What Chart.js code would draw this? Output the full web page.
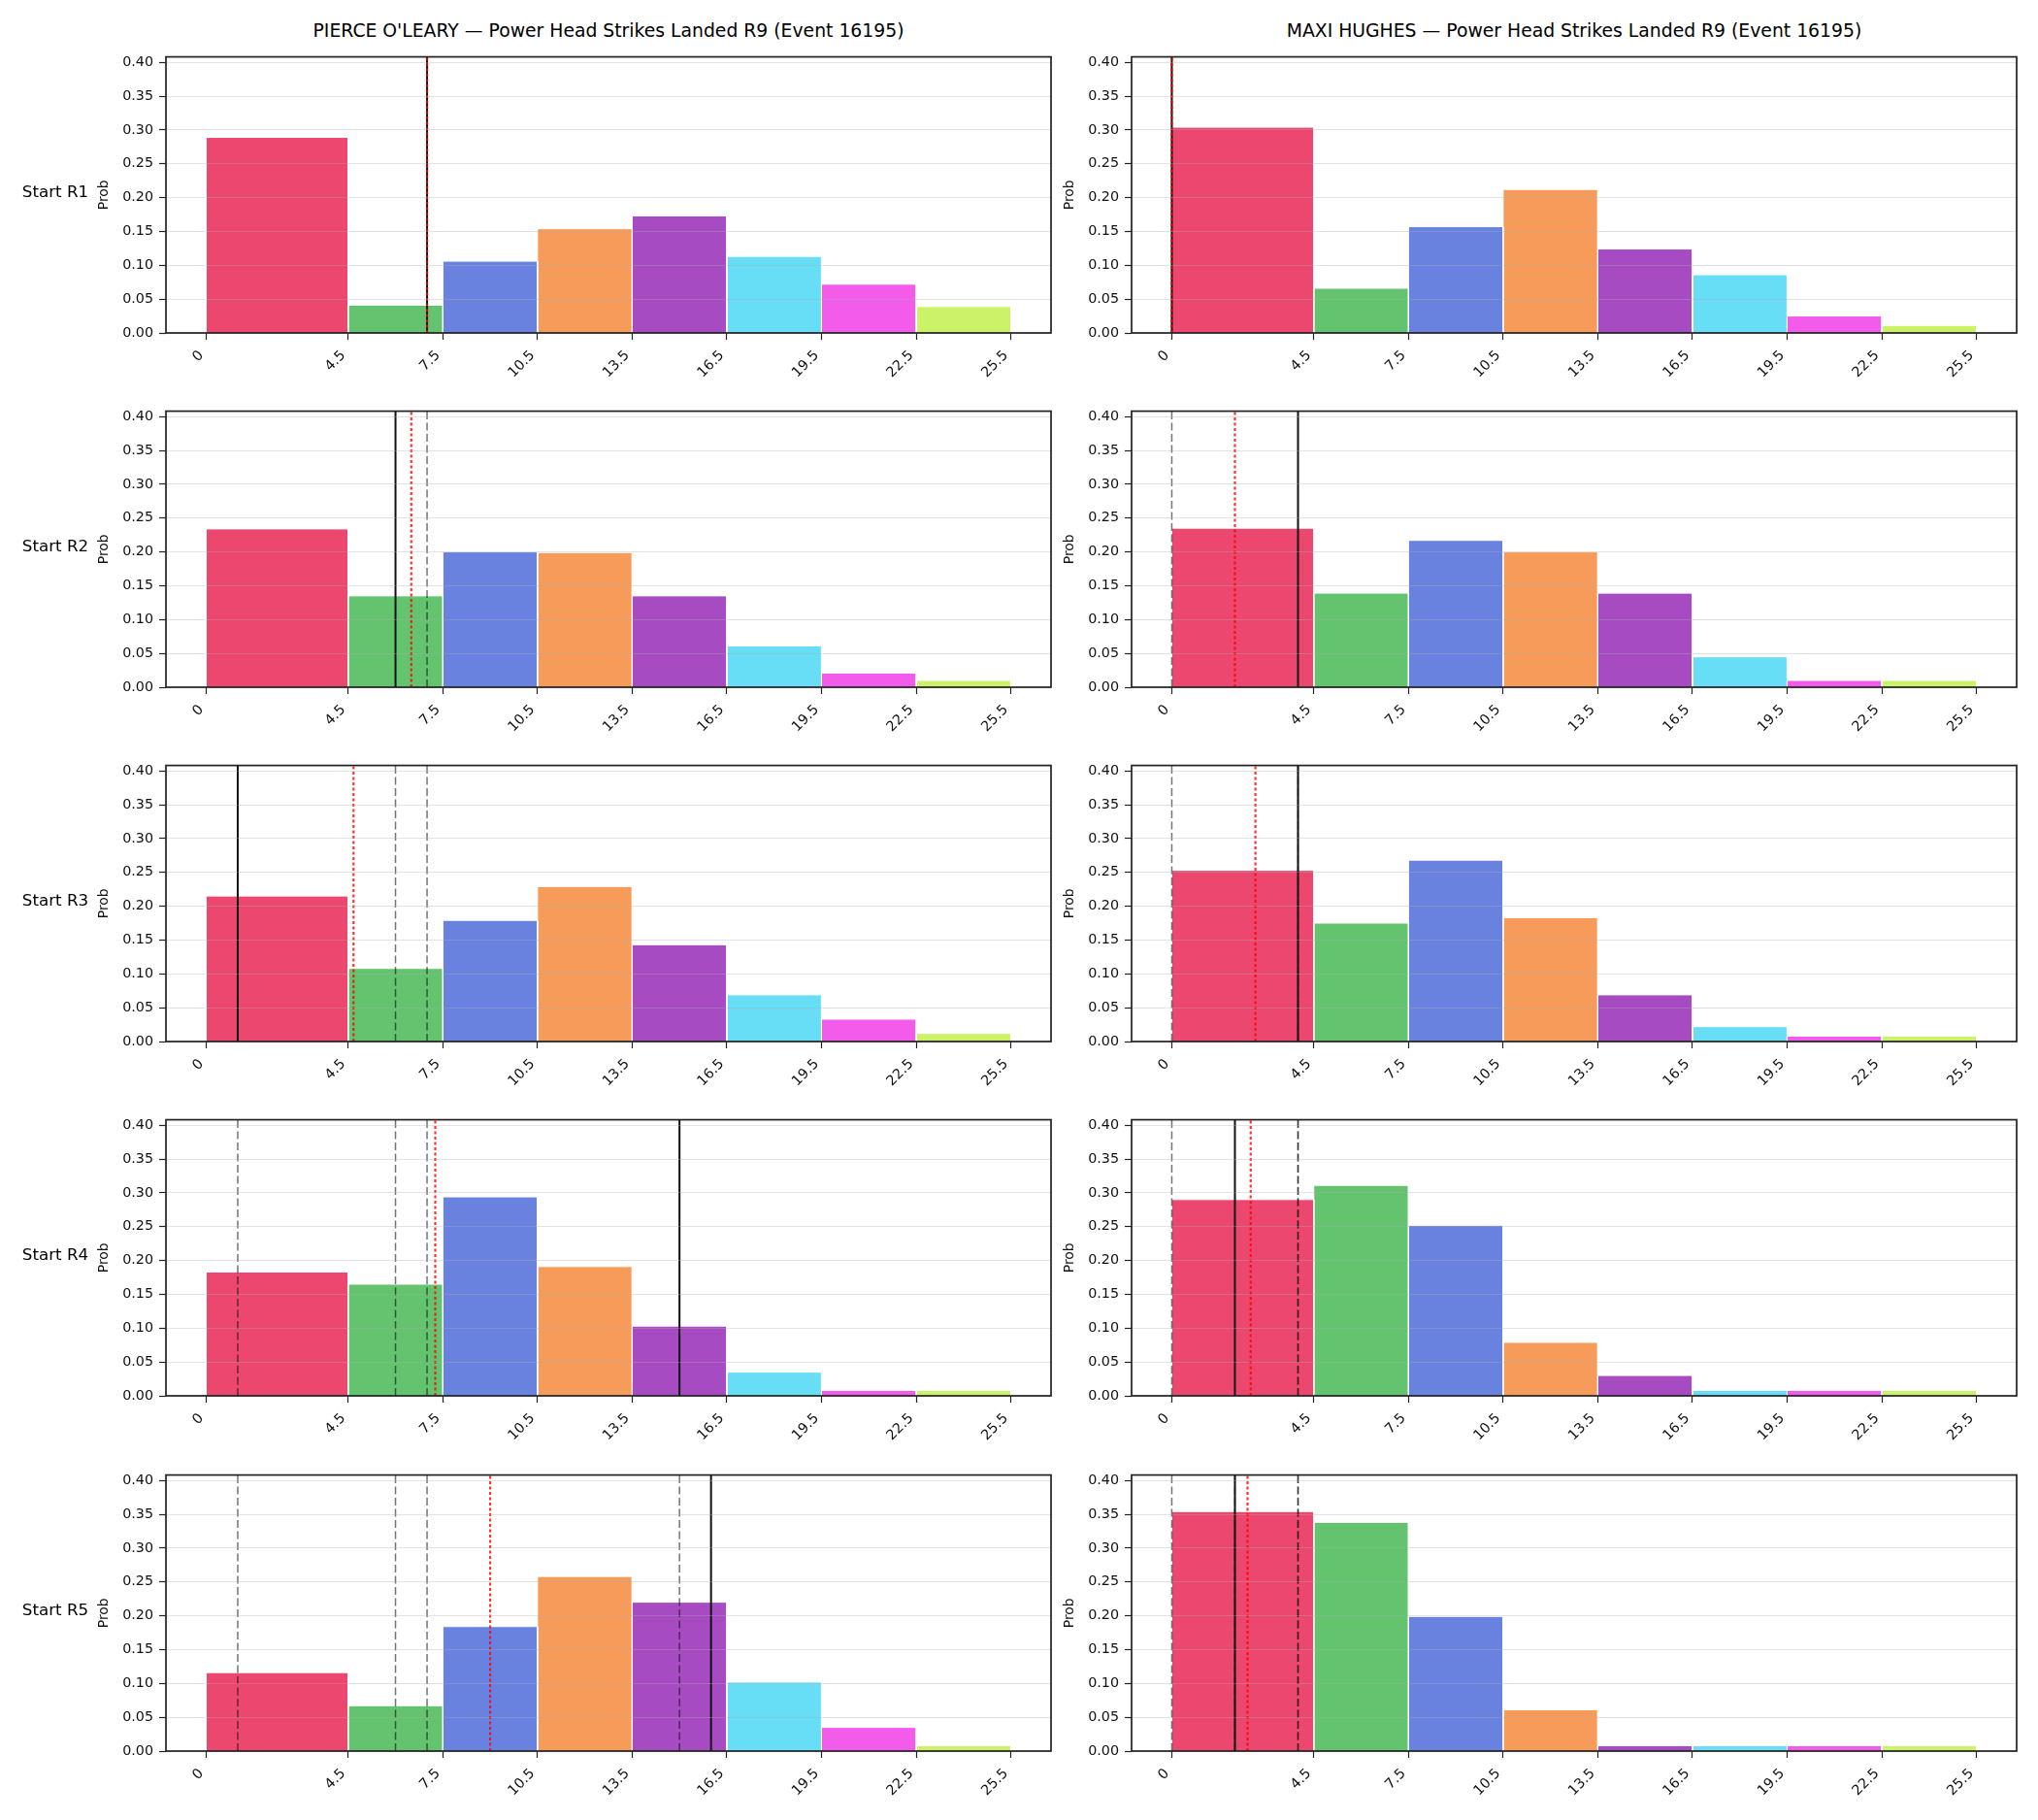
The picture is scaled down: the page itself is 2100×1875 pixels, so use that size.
<!DOCTYPE html>
<html>
<head>
<meta charset="utf-8">
<script src="https://cdn.jsdelivr.net/npm/chart.js@4.4.0/dist/chart.umd.min.js"></script>
<style>
  body { margin: 0; background: #fff; width: 2100px; height: 1875px; overflow: hidden; position: relative; font-family: "DejaVu Sans", sans-serif; }
  canvas { position: absolute; }
  .lbl { position: absolute; font-size: 16.7px; line-height: 1; color: #000; white-space: nowrap; transform: translate(-50%, -50%); }
  .ttl { font-size: 18.8px; }
</style>
</head>
<body>
<script>
// bins / ticks
var binEdges = [0, 4.5, 7.5, 10.5, 13.5, 16.5, 19.5, 22.5, 25.5];
var xTicks = [0, 4.5, 7.5, 10.5, 13.5, 16.5, 19.5, 22.5, 25.5];
var yTicks = [0, 0.05, 0.10, 0.15, 0.20, 0.25, 0.30, 0.35, 0.40];
var rounds = ["Start R1", "Start R2", "Start R3", "Start R4", "Start R5"];
var fighters = ["PIERCE O'LEARY", "MAXI HUGHES"];
var statName = "Power Head Strikes Landed R9";
var eventId = 16195;

// probability per bin, one array per starting round
var pierceR1 = [0.289, 0.041, 0.106, 0.154, 0.173, 0.113, 0.072, 0.039];
var pierceR2 = [0.234, 0.135, 0.200, 0.199, 0.135, 0.061, 0.021, 0.010];
var pierceR3 = [0.215, 0.108, 0.179, 0.229, 0.143, 0.069, 0.033, 0.012];
var pierceR4 = [0.183, 0.165, 0.294, 0.191, 0.103, 0.035, 0.008, 0.008];
var pierceR5 = [0.116, 0.067, 0.184, 0.258, 0.220, 0.102, 0.035, 0.008];

var maxiR1 = [0.304, 0.066, 0.157, 0.212, 0.124, 0.086, 0.025, 0.011];
var maxiR2 = [0.235, 0.139, 0.217, 0.200, 0.139, 0.045, 0.010, 0.010];
var maxiR3 = [0.253, 0.175, 0.268, 0.183, 0.069, 0.022, 0.008, 0.008];
var maxiR4 = [0.290, 0.311, 0.252, 0.079, 0.030, 0.008, 0.008, 0.008];
var maxiR5 = [0.354, 0.338, 0.199, 0.061, 0.008, 0.008, 0.008, 0.008];

// running total at start of round (solid) and expected value (dotted)
var pierceActual = [7, 6, 1, 15, 16];
var pierceMean = [7, 6.5, 4.67, 7.26, 9.0];
var maxiActual = [0, 4, 4, 2, 2];
var maxiMean = [0, 2.0, 2.65, 2.5, 2.4];

var pierceProbs = [pierceR1, pierceR2, pierceR3, pierceR4, pierceR5];
var maxiProbs = [maxiR1, maxiR2, maxiR3, maxiR4, maxiR5];

var binColors = [
  "rgba(230,25,75,0.8)", "rgba(60,180,75,0.8)", "rgba(67,99,216,0.8)", "rgba(245,130,49,0.8)",
  "rgba(145,30,180,0.8)", "rgba(66,212,244,0.8)", "rgba(240,50,230,0.8)", "rgba(191,239,69,0.8)"
];

// layout
var colLeft = [171, 1166];
var rowTop = [50, 415, 780, 1145, 1511];
var plotW = 912, plotH = 293;
var M = 80, R = 12, T = 6, B = 62;
var yMax = 0.408;
var xMin = -1.275, xMax = 26.775;

Chart.defaults.font.family = "'DejaVu Sans', sans-serif";
Chart.defaults.color = "#111";

var framePlugin = {
  id: "frame",
  afterDraw: function (chart) {
    var a = chart.chartArea, ctx = chart.ctx;
    ctx.save();
    ctx.strokeStyle = "#222";
    ctx.lineWidth = 1.7;
    ctx.strokeRect(a.left, a.top, a.right - a.left, a.bottom - a.top);
    ctx.restore();
  }
};

function vline(v, color, width, dash, order) {
  return {
    type: "line",
    data: [{ x: v, y: 0 }, { x: v, y: yMax }],
    borderColor: color,
    borderWidth: width,
    borderDash: dash,
    pointRadius: 0,
    fill: false,
    order: order
  };
}

function addLabel(text, x, y, cls) {
  var d = document.createElement("div");
  d.className = "lbl" + (cls ? " " + cls : "");
  d.textContent = text;
  d.style.left = x + "px";
  d.style.top = y + "px";
  document.body.appendChild(d);
}

function makePanel(col, row, probs, actual, mean) {
  var canvas = document.createElement("canvas");
  canvas.width = M + plotW + R;
  canvas.height = T + plotH + B;
  canvas.style.left = (colLeft[col] - M) + "px";
  canvas.style.top = (rowTop[row] - T) + "px";
  document.body.appendChild(canvas);

  var datasets = [];
  probs.forEach(function (p, i) {
    datasets.push({
      type: "line",
      data: [
        { x: binEdges[i], y: 0 }, { x: binEdges[i], y: p },
        { x: binEdges[i + 1], y: p }, { x: binEdges[i + 1], y: 0 }
      ],
      backgroundColor: binColors[i],
      borderColor: "#fff",
      borderWidth: 1,
      fill: "origin",
      pointRadius: 0,
      tension: 0,
      order: 10
    });
  });
  actual.slice(0, row).forEach(function (v) {
    datasets.push(vline(v, "rgba(0,0,0,0.55)", 1.5, [8, 3.5], 3));
  });
  datasets.push(vline(actual[row], "#111", 2, [], 2));
  datasets.push(vline(mean[row], "rgba(255,0,0,0.8)", 2.2, [3, 2.5], 1));

  new Chart(canvas, {
    type: "line",
    data: { datasets: datasets },
    plugins: [framePlugin],
    options: {
      responsive: false,
      animation: false,
      layout: { padding: { top: T, right: R, left: 0, bottom: 0 } },
      plugins: { legend: { display: false }, tooltip: { enabled: false } },
      scales: {
        x: {
          type: "linear",
          min: xMin,
          max: xMax,
          afterBuildTicks: function (s) { s.ticks = xTicks.map(function (v) { return { value: v }; }); },
          afterFit: function (s) { s.height = B; },
          border: { display: false },
          grid: { drawOnChartArea: false, drawTicks: true, tickLength: 7, tickColor: "#222", tickWidth: 1.2 },
          ticks: {
            autoSkip: false, maxRotation: 45, minRotation: 45, padding: 8, labelOffset: -5,
            font: { size: 14.3 },
            callback: function (v) { return String(v); }
          }
        },
        y: {
          type: "linear",
          min: 0,
          max: yMax,
          afterBuildTicks: function (s) { s.ticks = yTicks.map(function (v) { return { value: v }; }); },
          afterFit: function (s) { s.width = M; },
          border: { display: false },
          grid: { color: "rgba(176,176,176,0.35)", lineWidth: 1, tickLength: 7, tickColor: "#222", tickWidth: 1.2, z: 1 },
          ticks: {
            padding: 6,
            font: { size: 14.3 },
            callback: function (v) { return v.toFixed(2); }
          },
          title: { display: true, text: "Prob", font: { size: 13.9 }, padding: { top: 8, bottom: 0 } }
        }
      }
    }
  });
}

for (var r = 0; r < rounds.length; r++) {
  makePanel(0, r, pierceProbs[r], pierceActual, pierceMean);
  makePanel(1, r, maxiProbs[r], maxiActual, maxiMean);
  addLabel(rounds[r], 57, rowTop[r] + plotH / 2);
}
fighters.forEach(function (f, c) {
  addLabel(f + " \u2014 " + statName + " (Event " + eventId + ")", colLeft[c] + plotW / 2, 32, "ttl");
});
</script>
</body>
</html>
